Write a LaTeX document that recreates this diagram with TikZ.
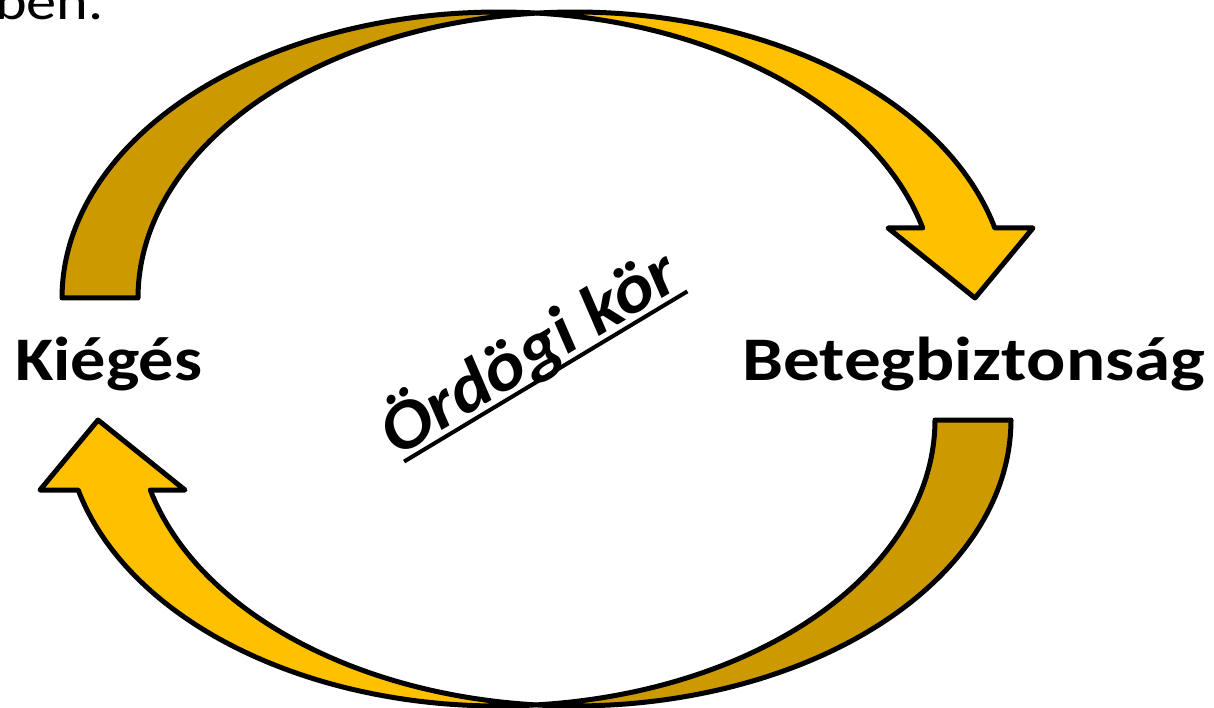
\documentclass[tikz,border=0pt]{standalone}
\usepackage{fontspec}
\setmainfont{Carlito}
\usepackage{graphicx}
\definecolor{lightgold}{HTML}{FFC000}
\definecolor{darkgold}{HTML}{CC9900}
\newcommand\fitw[2]{\sbox0{#2}\pgfmathsetmacro\fwsc{#1/\the\wd0}\scalebox{\fwsc}[1]{\usebox0}}
\newcommand\curvedarrowshape{%
  \draw[outl, fill=darkgold]
    plot[domain=180:84.99, samples=80] ({499+437*cos(\x)},{298-286*sin(\x)})
    -- plot[domain=95.01:180, samples=80] ({575+437*cos(\x)},{298-286*sin(\x)})
    -- cycle;
  \draw[outl, fill=lightgold]
    plot[domain=95.01:14.17, samples=80] ({575+433*cos(\x)},{298-286*sin(\x)})
    -- (1033,228) -- (975,298) -- (888,228)
    -- plot[domain=14.17:84.99, samples=80] ({499+437*cos(\x)},{298-286*sin(\x)})
    -- cycle;
}
\tikzset{
  outl/.style={draw=black, line width=5pt, line join=round},
  lbl/.style={inner sep=0pt, font=\fontsize{62}{70}\selectfont\bfseries},
}
\begin{document}
\begin{tikzpicture}[x=1pt, y=-1pt]
\useasboundingbox (0,0) rectangle (1214,708);
\coordinate (rc) at (536.5,359);
% top arrow
\curvedarrowshape
% bottom arrow (point reflection)
\begin{scope}[rotate around={180:(rc)}]
\curvedarrowshape
\end{scope}
% labels
\node[lbl, anchor=base west] (kieg) at (15,380) {\fitw{187}{Kiégés}};
\node[lbl, anchor=base west] (beteg) at (742,380) {\fitw{463}{Betegbiztonság}};
\node[inner sep=0pt, anchor=base east] (ben) at (104,20) {\scalebox{1.16}[1]{\fontsize{52}{56}\selectfont ben.}};
\begin{scope}[shift={(540.4,371.5)}, rotate=31, transform shape]
\node[lbl, anchor=base, font=\fontsize{70}{78}\selectfont\bfseries\itshape] (ord) at (0,0) {\fitw{334}{Ördögi kör}};
\draw[line width=4pt] ([yshift=-7pt,xshift=4pt]ord.base west) -- ([yshift=-7pt]ord.base east);
\end{scope}
\end{tikzpicture}
\end{document}
